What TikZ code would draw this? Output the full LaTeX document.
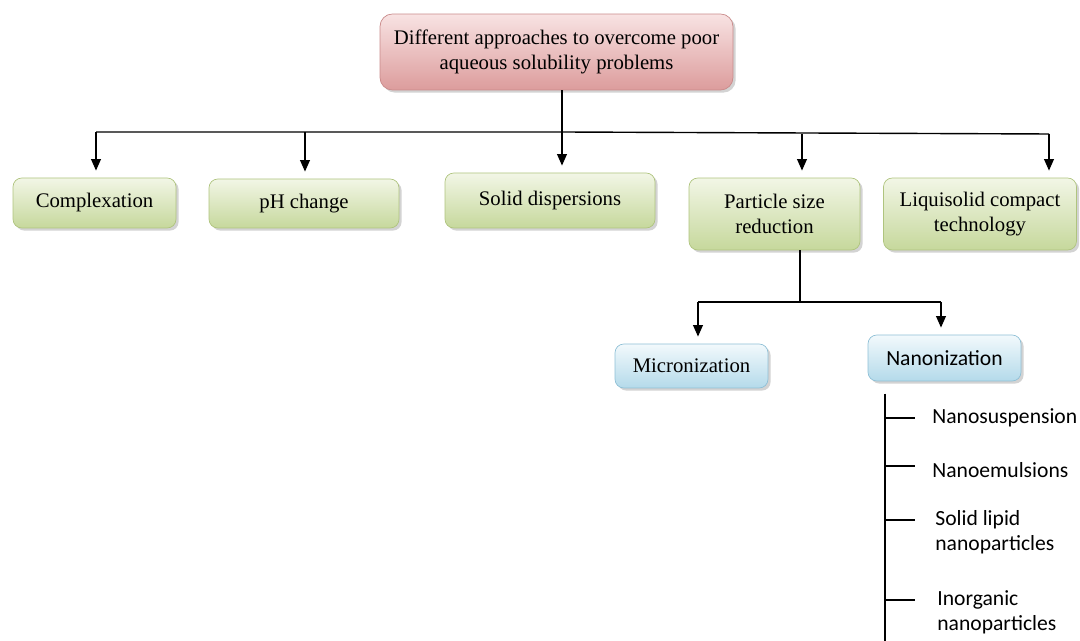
\documentclass[tikz,border=0pt]{standalone}
\usepackage{fontspec}
\setmainfont{Liberation Serif}
\newfontfamily\calibri{Carlito}
\usetikzlibrary{shapes.geometric, arrows, arrows.meta, calc, positioning, shadows}
\definecolor{pinktop}{HTML}{F8E3E3}
\definecolor{pinkbot}{HTML}{DC9C9C}
\definecolor{pinkedge}{HTML}{C98A8A}
\definecolor{greentop}{HTML}{F2F6E6}
\definecolor{greenbot}{HTML}{C6D89C}
\definecolor{greenedge}{HTML}{AFC47E}
\definecolor{bluetop}{HTML}{F2F9FC}
\definecolor{bluebot}{HTML}{B4DAEA}
\definecolor{blueedge}{HTML}{8FC0D6}
\tikzstyle{goal} = [rectangle, rounded corners=7pt, text centered, align=center,
draw=pinkedge, top color=pinktop, bottom color=pinkbot,
drop shadow={shadow xshift=1.5pt, shadow yshift=-1.5pt, opacity=0.35}]
\tikzstyle{approach} = [rectangle, rounded corners=5pt, text centered, align=center,
draw=greenedge, top color=greentop, bottom color=greenbot,
drop shadow={shadow xshift=1.5pt, shadow yshift=-1.5pt, opacity=0.35}]
\tikzstyle{sizing} = [rectangle, rounded corners=5pt, text centered, align=center,
draw=blueedge, top color=bluetop, bottom color=bluebot,
drop shadow={shadow xshift=1.5pt, shadow yshift=-1.5pt, opacity=0.35}]
\tikzstyle{nanoleaf} = [anchor=west, align=left, inner sep=0pt, font=\calibri\fontsize{12.3}{14.2}\selectfont]
\tikzstyle{arrow} = [thick,->,>={Triangle[length=6.5pt,width=5.5pt]}, shorten >=4pt]
\tikzstyle{line} = [thick]

\begin{document}
\begin{tikzpicture}[x=0.02cm, y=-0.02cm, font=\fontsize{11.8}{14.2}\selectfont]
      \useasboundingbox (0,0) rectangle (1080,641);

      \node (top) [goal, minimum width=7.06cm, minimum height=1.52cm] at (556.5,52)
        {Different approaches to overcome poor\\ aqueous solubility problems};

      \node (comp) [approach, minimum width=3.26cm, minimum height=1cm] at (94.5,203) {Complexation};
      \node (ph) [approach, minimum width=3.8cm, minimum height=0.98cm] at (304,203.5) {pH change};
      \node (solid) [approach, minimum width=4.2cm, minimum height=1.1cm] at (550,200.5) {Solid dispersions};
      \node (psr) [approach, minimum width=3.42cm, minimum height=1.44cm] at (774.5,214) {Particle size\\ reduction};
      \node (liq) [approach, minimum width=3.86cm, minimum height=1.44cm] at (980,214) {Liquisolid compact\\ technology};

      \node (micro) [sizing, minimum width=3.06cm, minimum height=0.88cm] at (691.5,366) {Micronization};
      \node (nano) [sizing, minimum width=3.06cm, minimum height=0.92cm, font=\calibri\fontsize{12.3}{14}\selectfont] at (944.5,358) {Nanonization};

      \node (nsus) [nanoleaf] at (932,418) {Nanosuspension};
      \node (nemu) [nanoleaf] at (932,470) {Nanoemulsions};
      \node (sln) [nanoleaf] at (935,532) {Solid lipid\\ nanoparticles};
      \node (inorg) [nanoleaf] at (937,612) {Inorganic\\ nanoparticles};

      % bus below the main box
      \coordinate (b1) at (96,132);
      \coordinate (b2) at (305,132);
      \coordinate (b3) at (562,132);
      \coordinate (b4) at (802,134);
      \coordinate (b5) at (1049,134);
      \draw [line] (b1) -- (b3) -- (b5);
      \draw [arrow] (top.south -| b3) -- (b3 |- solid.north);
      \draw [arrow] (b1) -- (b1 |- comp.north);
      \draw [arrow] (b2) -- (b2 |- ph.north);
      \draw [arrow] (b4) -- (b4 |- psr.north);
      \draw [arrow] (b5) -- (b5 |- liq.north);

      % particle size reduction branch
      \coordinate (j) at (800,302);
      \coordinate (jl) at (698,302);
      \coordinate (jr) at (941,302);
      \draw [line] (psr.south -| j) -- (j);
      \draw [line] (jl) -- (jr);
      \draw [arrow] (jl) -- (jl |- micro.north);
      \draw [arrow] (jr) -- (jr |- nano.north);

      % nanonization list
      \coordinate (sp) at (885,641);
      \draw [line] ([yshift=-7pt]nano.south -| sp) -- (sp);
      \coordinate (t1) at (915,418);
      \coordinate (t2) at (915,466);
      \coordinate (t3) at (915,520);
      \coordinate (t4) at (915,600);
      \foreach \t in {t1,t2,t3,t4}
        \draw [line] (sp |- \t) -- (\t);
    \end{tikzpicture}
\end{document}
